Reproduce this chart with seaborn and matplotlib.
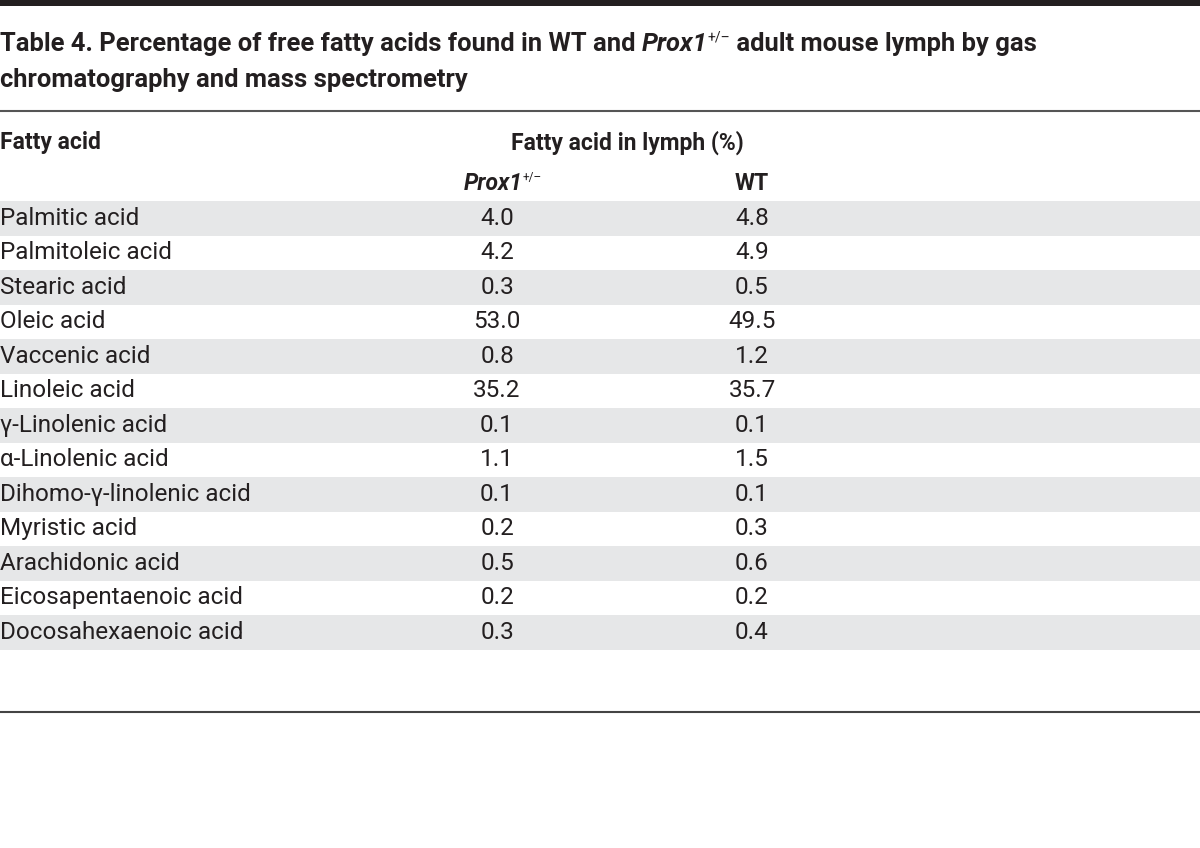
import matplotlib
matplotlib.use('Agg')
import matplotlib.pyplot as plt
import seaborn as sns

# table contents
acids = ['Palmitic acid', 'Palmitoleic acid', 'Stearic acid', 'Oleic acid',
         'Vaccenic acid', 'Linoleic acid', 'γ-Linolenic acid', 'α-Linolenic acid',
         'Dihomo-γ-linolenic acid', 'Myristic acid', 'Arachidonic acid',
         'Eicosapentaenoic acid', 'Docosahexaenoic acid']
prox1 = [4.0, 4.2, 0.3, 53.0, 0.8, 35.2, 0.1, 1.1, 0.1, 0.2, 0.5, 0.2, 0.3]
wt = [4.8, 4.9, 0.5, 49.5, 1.2, 35.7, 0.1, 1.5, 0.1, 0.3, 0.6, 0.2, 0.4]

sns.set_style('white')
plt.rcParams['font.family'] = ['Roboto', 'DejaVu Sans']

fig = plt.figure(figsize=(12, 8.48), dpi=100)
ax = fig.add_axes([0, 0, 1, 1])
ax.set_xlim(0, 1200)
ax.set_ylim(848, 0)
ax.axis('off')

dark = '#231f20'
renderer = fig.canvas.get_renderer()


def run_text(x, y, pieces):
    # draw text pieces one after another on a line, returns end x
    for s, kw in pieces:
        t = ax.text(x, y + kw.pop('dy', 0), s, color=dark, va='center', ha='left', **kw)
        bb = t.get_window_extent(renderer)
        x += bb.width
    return x


# top bar
ax.axhspan(0, 6, color=dark, lw=0)

# title
tsize = 18.4
run_text(0, 44, [
    ('Table 4. Percentage of free fatty acids found in WT and ', dict(fontsize=tsize, fontweight='bold')),
    ('Prox1', dict(fontsize=tsize, fontweight='bold', style='italic')),
    ('+/–', dict(fontsize=10, dy=-6)),
    (' adult mouse lymph by gas', dict(fontsize=tsize, fontweight='bold')),
])
ax.text(0, 80, 'chromatography and mass spectrometry',
        fontsize=tsize, fontweight='bold', color=dark, va='center', ha='left')

ax.axhline(111, color='#555555', lw=1.5)

# headers
x_name, x_p, x_w = 0, 497, 752
hsize = 16.5
ax.text(x_name, 143, 'Fatty acid', fontsize=hsize, fontweight='bold', color=dark, va='center')
ax.text((x_p + x_w) / 2 + 3, 143, 'Fatty acid in lymph (%)', fontsize=hsize, fontweight='bold',
        color=dark, va='center', ha='center')
run_text(464, 183, [
    ('Prox1', dict(fontsize=hsize, fontweight='bold', style='italic')),
    ('+/–', dict(fontsize=8.5, dy=-6)),
])
ax.text(x_w, 183, 'WT', fontsize=hsize, fontweight='bold', color=dark, va='center', ha='center')

# body rows
bsize = 17.5
top, h = 201, 34.5
for i, (name, p, w) in enumerate(zip(acids, prox1, wt)):
    y0 = top + i * h
    if i % 2 == 0:
        ax.axhspan(y0, y0 + h, color='#e6e7e8', lw=0)
    yc = y0 + h / 2
    ax.text(x_name, yc, name, fontsize=bsize, color=dark, va='center', ha='left')
    ax.text(x_p, yc, f'{p:.1f}', fontsize=bsize, color=dark, va='center', ha='center')
    ax.text(x_w, yc, f'{w:.1f}', fontsize=bsize, color=dark, va='center', ha='center')

ax.axhline(712, color='#444444', lw=1.5)

fig.savefig('out.png', dpi=100)
